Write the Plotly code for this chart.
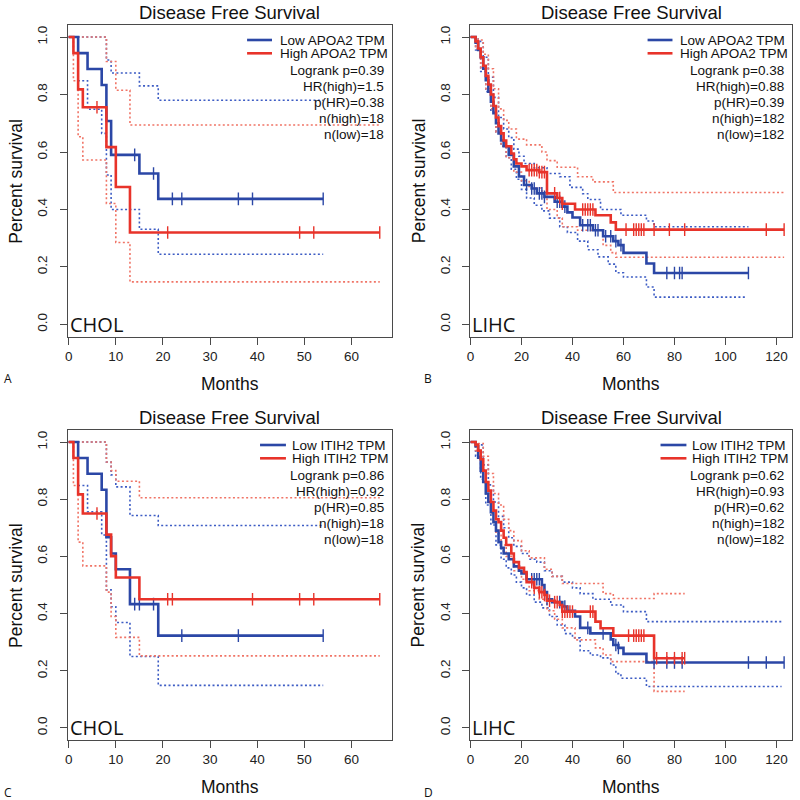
import plotly.graph_objects as go

# ---------------- DATA ----------------
# Panel A : CHOL, APOA2
A_LOW_T = [0, 2, 4, 7, 8, 9, 15, 19, 54]
A_LOW_S = [1.0, 0.944, 0.889, 0.833, 0.708, 0.590, 0.525, 0.437, 0.437]
A_LOW_CENS = [14, 18, 22, 24, 36, 39, 54]
A_LOW_UP_T = [0, 8, 9, 15, 19, 54]
A_LOW_UP_S = [1.0, 0.92, 0.875, 0.83, 0.78, 0.78]
A_LOW_LO_T = [0, 2, 4, 7, 8, 9, 15, 19, 54]
A_LOW_LO_S = [1.0, 0.848, 0.749, 0.665, 0.52, 0.40, 0.331, 0.244, 0.244]
A_HIGH_T = [0, 1, 2, 3, 8, 10, 13, 66]
A_HIGH_S = [1.0, 0.944, 0.818, 0.756, 0.617, 0.478, 0.320, 0.320]
A_HIGH_CENS = [6, 21, 49, 52, 66]
A_HIGH_UP_T = [0, 8, 10, 13, 66]
A_HIGH_UP_S = [1.0, 0.915, 0.815, 0.694, 0.694]
A_HIGH_LO_T = [0, 1, 2, 3, 8, 10, 13, 66]
A_HIGH_LO_S = [1.0, 0.848, 0.653, 0.572, 0.421, 0.285, 0.148, 0.148]

# Panel B : LIHC, APOA2
B_LOW_T = [0, 2, 3, 4, 5, 6, 7, 8, 9, 10, 11, 12, 13, 15, 17, 19, 21, 24, 26, 29, 33, 36, 38, 40, 43,
           48, 52, 56, 58, 60, 69, 72, 109]
B_LOW_S = [1.0, 0.98, 0.955, 0.93, 0.89, 0.85, 0.81, 0.775, 0.735, 0.70, 0.665, 0.64, 0.62, 0.59, 0.55,
           0.515, 0.485, 0.473, 0.456, 0.444, 0.427, 0.41, 0.39, 0.372, 0.345, 0.328, 0.307, 0.29, 0.276,
           0.249, 0.212, 0.179, 0.179]
B_LOW_CENS = [22, 24, 25, 27, 28, 29, 34, 35, 37, 44, 46, 47, 49, 50, 53, 55, 57, 59, 77, 80, 82, 83, 109]
B_LOW_UP_T = [0, 3, 5, 7, 9, 11, 13, 15, 17, 19, 21, 25, 30, 35, 39, 44, 46, 51, 59, 69, 72, 109]
B_LOW_UP_S = [1.0, 0.985, 0.93, 0.86, 0.79, 0.72, 0.68, 0.65, 0.61, 0.585, 0.56, 0.545, 0.525, 0.514,
              0.477, 0.455, 0.435, 0.40, 0.38, 0.36, 0.34, 0.34]
B_LOW_LO_T = [0, 2, 4, 6, 8, 10, 12, 14, 16, 18, 20, 22, 25, 28, 31, 35, 38, 42, 46, 50, 54, 57, 60, 69,
              72, 108]
B_LOW_LO_S = [1.0, 0.955, 0.88, 0.81, 0.74, 0.67, 0.62, 0.58, 0.54, 0.505, 0.47, 0.44, 0.415, 0.395,
              0.37, 0.34, 0.32, 0.29, 0.26, 0.235, 0.21, 0.18, 0.165, 0.13, 0.095, 0.095]
B_HIGH_T = [0, 2, 3, 4, 5, 6, 7, 8, 9, 10, 11, 12, 13, 14, 16, 17, 18, 20, 22, 27, 30, 34, 36, 41, 49,
            55, 57, 123]
B_HIGH_S = [1.0, 0.985, 0.96, 0.93, 0.90, 0.865, 0.835, 0.80, 0.76, 0.72, 0.69, 0.665, 0.64, 0.62,
            0.595, 0.575, 0.56, 0.55, 0.537, 0.53, 0.456, 0.44, 0.42, 0.40, 0.38, 0.355, 0.33, 0.33]
B_HIGH_CENS = [23, 24, 25, 26, 27, 28, 29, 33, 35, 36, 44, 45, 46, 47, 48, 61, 64, 65, 66, 67, 68, 72,
               78, 84, 116, 123]
B_HIGH_UP_T = [0, 3, 5, 7, 9, 11, 13, 15, 18, 22, 28, 30, 34, 42, 48, 56, 123]
B_HIGH_UP_S = [1.0, 0.99, 0.94, 0.89, 0.82, 0.75, 0.71, 0.68, 0.645, 0.625, 0.60, 0.57, 0.547, 0.514,
               0.496, 0.459, 0.459]
B_HIGH_LO_T = [0, 2, 4, 6, 8, 10, 12, 14, 17, 20, 23, 28, 30, 34, 36, 42, 52, 55, 57, 123]
B_HIGH_LO_S = [1.0, 0.96, 0.89, 0.82, 0.75, 0.67, 0.62, 0.58, 0.53, 0.50, 0.475, 0.46, 0.40, 0.37,
               0.34, 0.328, 0.275, 0.25, 0.234, 0.234]

# Panel C : CHOL, ITIH2
C_LOW_T = [0, 2, 4, 7, 8, 9, 10, 13, 19, 54]
C_LOW_S = [1.0, 0.944, 0.889, 0.833, 0.667, 0.610, 0.555, 0.433, 0.323, 0.323]
C_LOW_CENS = [14, 15, 18, 24, 36, 54]
C_LOW_UP_T = [0, 8, 9, 10, 13, 19, 54]
C_LOW_UP_S = [1.0, 0.93, 0.885, 0.843, 0.743, 0.708, 0.708]
C_LOW_LO_T = [0, 2, 4, 7, 8, 9, 10, 13, 19, 54]
C_LOW_LO_S = [1.0, 0.848, 0.756, 0.675, 0.483, 0.424, 0.369, 0.25, 0.149, 0.149]
C_HIGH_T = [0, 1, 2, 3, 8, 9, 10, 15, 66]
C_HIGH_S = [1.0, 0.944, 0.817, 0.75, 0.676, 0.601, 0.526, 0.45, 0.45]
C_HIGH_CENS = [6, 21, 22, 39, 49, 52, 66]
C_HIGH_UP_T = [0, 8, 9, 10, 15, 66]
C_HIGH_UP_S = [1.0, 0.93, 0.9, 0.863, 0.805, 0.805]
C_HIGH_LO_T = [0, 1, 2, 3, 8, 9, 10, 15, 66]
C_HIGH_LO_S = [1.0, 0.848, 0.65, 0.567, 0.475, 0.39, 0.317, 0.252, 0.252]

# Panel D : LIHC, ITIH2
D_LOW_T = [0, 2, 3, 4, 5, 6, 7, 8, 9, 10, 11, 12, 13, 15, 17, 19, 20, 22, 28, 29, 30, 32, 36, 38, 41,
           43, 47, 55, 56, 58, 60, 69, 123]
D_LOW_S = [1.0, 0.985, 0.945, 0.90, 0.86, 0.82, 0.79, 0.755, 0.72, 0.69, 0.65, 0.63, 0.61, 0.59, 0.565,
           0.55, 0.54, 0.52, 0.50, 0.475, 0.45, 0.44, 0.425, 0.41, 0.39, 0.35, 0.331, 0.31, 0.29, 0.28,
           0.259, 0.229, 0.229]
D_LOW_CENS = [24, 25, 26, 27, 30, 35, 37, 46, 52, 57, 58, 72, 77, 80, 83, 109, 116, 123]
D_LOW_UP_T = [0, 3, 5, 7, 9, 11, 13, 15, 17, 20, 23, 26, 29, 32, 36, 40, 43, 48, 55, 60, 69, 122]
D_LOW_UP_S = [1.0, 0.99, 0.92, 0.85, 0.79, 0.74, 0.70, 0.665, 0.635, 0.61, 0.59, 0.58, 0.55, 0.53,
              0.51, 0.49, 0.47, 0.45, 0.43, 0.407, 0.372, 0.372]
D_LOW_LO_T = [0, 2, 4, 6, 8, 10, 12, 14, 16, 18, 20, 22, 25, 28, 31, 34, 37, 40, 43, 47, 51, 55, 57,
              59, 69, 122]
D_LOW_LO_S = [1.0, 0.95, 0.87, 0.78, 0.71, 0.64, 0.59, 0.56, 0.535, 0.51, 0.49, 0.465, 0.44, 0.42,
              0.39, 0.36, 0.33, 0.315, 0.27, 0.255, 0.245, 0.22, 0.19, 0.174, 0.145, 0.145]
D_HIGH_T = [0, 2, 3, 4, 5, 6, 7, 8, 9, 10, 11, 12, 13, 14, 16, 17, 19, 21, 22, 25, 27, 29, 30, 33, 35,
            36, 49, 51, 56, 72, 84]
D_HIGH_S = [1.0, 0.99, 0.97, 0.94, 0.90, 0.86, 0.83, 0.79, 0.76, 0.73, 0.72, 0.69, 0.665, 0.64, 0.61,
            0.58, 0.56, 0.545, 0.51, 0.49, 0.475, 0.465, 0.445, 0.44, 0.43, 0.407, 0.372, 0.349, 0.323,
            0.244, 0.244]
D_HIGH_CENS = [24, 25, 27, 28, 29, 31, 33, 34, 36, 37, 38, 39, 40, 47, 48, 62, 64, 65, 66, 67, 68, 73,
               77, 80, 83, 84]
D_HIGH_UP_T = [0, 3, 5, 7, 9, 11, 13, 15, 17, 20, 23, 29, 32, 36, 41, 52, 56, 72, 84]
D_HIGH_UP_S = [1.0, 0.995, 0.95, 0.89, 0.82, 0.78, 0.73, 0.69, 0.655, 0.62, 0.595, 0.555, 0.53, 0.505,
               0.505, 0.47, 0.453, 0.47, 0.47]
D_HIGH_LO_T = [0, 2, 4, 6, 8, 10, 12, 14, 17, 20, 23, 27, 30, 33, 36, 41, 49, 52, 55, 72, 84]
D_HIGH_LO_S = [1.0, 0.97, 0.90, 0.82, 0.75, 0.68, 0.64, 0.60, 0.55, 0.52, 0.48, 0.45, 0.41, 0.38, 0.35,
               0.308, 0.28, 0.255, 0.232, 0.128, 0.128]

# Text
TITLE = "Disease Free Survival"
X_LABEL = "Months"
Y_LABEL = "Percent survival"
GENES = ["APOA2", "APOA2", "ITIH2", "ITIH2"]
CANCERS = ["CHOL", "LIHC", "CHOL", "LIHC"]
PANEL_LETTERS = ["A", "B", "C", "D"]
LOGRANK_P = ["0.39", "0.38", "0.86", "0.62"]
HR_HIGH = ["1.5", "0.88", "0.92", "0.93"]
P_HR = ["0.38", "0.39", "0.85", "0.62"]
N_HIGH = ["18", "182", "18", "182"]
N_LOW = ["18", "182", "18", "182"]
X_TICKS_CHOL = [0, 10, 20, 30, 40, 50, 60]
X_TICKS_LIHC = [0, 20, 40, 60, 80, 100, 120]
Y_TICKS = [0.0, 0.2, 0.4, 0.6, 0.8, 1.0]

# ---------------- STYLE / LAYOUT ----------------
BLUE = "#2b47a6"
RED = "#e8332a"
BLUE_CI = "#3d5cc4"
RED_CI = "#f07466"
AXC = "#4a4a4a"
FONT = "Liberation Sans, Arial, sans-serif"
W = H = 800

# pixel boxes (left, top, right, bottom)
BOXES = [(65, 25, 390, 336.5), (469, 25, 792, 336.5), (65, 430, 390, 740), (469, 430, 792, 740)]
XRANGES = [[-0.2, 68.5], [-0.1, 126.1], [-0.2, 68.5], [-0.1, 126.1]]
YRANGE = [-0.042, 1.042]

panels = [
    dict(low=(A_LOW_T, A_LOW_S, A_LOW_CENS), high=(A_HIGH_T, A_HIGH_S, A_HIGH_CENS),
         ci=[(A_LOW_UP_T, A_LOW_UP_S, BLUE_CI), (A_LOW_LO_T, A_LOW_LO_S, BLUE_CI),
             (A_HIGH_UP_T, A_HIGH_UP_S, RED_CI), (A_HIGH_LO_T, A_HIGH_LO_S, RED_CI)],
         xticks=X_TICKS_CHOL),
    dict(low=(B_LOW_T, B_LOW_S, B_LOW_CENS), high=(B_HIGH_T, B_HIGH_S, B_HIGH_CENS),
         ci=[(B_LOW_UP_T, B_LOW_UP_S, BLUE_CI), (B_LOW_LO_T, B_LOW_LO_S, BLUE_CI),
             (B_HIGH_UP_T, B_HIGH_UP_S, RED_CI), (B_HIGH_LO_T, B_HIGH_LO_S, RED_CI)],
         xticks=X_TICKS_LIHC),
    dict(low=(C_LOW_T, C_LOW_S, C_LOW_CENS), high=(C_HIGH_T, C_HIGH_S, C_HIGH_CENS),
         ci=[(C_LOW_UP_T, C_LOW_UP_S, BLUE_CI), (C_LOW_LO_T, C_LOW_LO_S, BLUE_CI),
             (C_HIGH_UP_T, C_HIGH_UP_S, RED_CI), (C_HIGH_LO_T, C_HIGH_LO_S, RED_CI)],
         xticks=X_TICKS_CHOL),
    dict(low=(D_LOW_T, D_LOW_S, D_LOW_CENS), high=(D_HIGH_T, D_HIGH_S, D_HIGH_CENS),
         ci=[(D_LOW_UP_T, D_LOW_UP_S, BLUE_CI), (D_LOW_LO_T, D_LOW_LO_S, BLUE_CI),
             (D_HIGH_UP_T, D_HIGH_UP_S, RED_CI), (D_HIGH_LO_T, D_HIGH_LO_S, RED_CI)],
         xticks=X_TICKS_LIHC),
]


def step_at(ts, ss, c):
    v = ss[0]
    for t, s in zip(ts, ss):
        if t <= c:
            v = s
    return v


def px(x):
    return x / W


def py(y):
    return 1 - y / H


fig = go.Figure()
annotations = []
shapes = []

for i, p in enumerate(panels):
    xa = "x" if i == 0 else f"x{i + 1}"
    ya = "y" if i == 0 else f"y{i + 1}"
    # confidence bands (dotted)
    for ts, ss, col in p["ci"]:
        fig.add_trace(go.Scatter(x=ts, y=ss, mode="lines", line=dict(color=col, width=1.6, dash="2px,2.4px",
                                 shape="hv"), xaxis=xa, yaxis=ya, showlegend=False, hoverinfo="skip"))
    # survival curves + censor marks
    for (ts, ss, cens), col in ((p["low"], BLUE), (p["high"], RED)):
        fig.add_trace(go.Scatter(x=ts, y=ss, mode="lines", line=dict(color=col, width=2.6, shape="hv"),
                                 xaxis=xa, yaxis=ya, showlegend=False))
        fig.add_trace(go.Scatter(x=cens, y=[step_at(ts, ss, c) for c in cens], mode="markers",
                                 marker=dict(symbol="line-ns-open", size=9, color=col,
                                             line=dict(color=col, width=1.4)),
                                 xaxis=xa, yaxis=ya, showlegend=False))

    L, T, R, B = BOXES[i]
    axis_common = dict(showline=True, mirror=True, linecolor=AXC, linewidth=1, ticks="outside", ticklen=7,
                       tickcolor=AXC, tickwidth=1, showgrid=False, zeroline=False,
                       tickfont=dict(family=FONT, size=13.5, color="#222"))
    fig.update_layout(**{
        ("xaxis" if i == 0 else f"xaxis{i + 1}"): dict(domain=[px(L), px(R)], range=XRANGES[i], anchor=ya,
                                                         tickvals=p["xticks"], **axis_common),
        ("yaxis" if i == 0 else f"yaxis{i + 1}"): dict(domain=[py(B), py(T)], range=YRANGE, anchor=xa,
                                                         tickvals=Y_TICKS, ticktext=[f"{v:.1f}" for v in Y_TICKS],
                                                         tickangle=-90, ticklabelstandoff=7, **axis_common),
    })

    cx = (L + R) / 2
    annotations.append(dict(text=TITLE, x=px(cx), y=py(T - 13), xref="paper", yref="paper", showarrow=False,
                            xanchor="center", yanchor="middle", font=dict(family=FONT, size=18.5, color="#111")))
    annotations.append(dict(text=X_LABEL, x=px(cx), y=py(B + 47), xref="paper", yref="paper", showarrow=False,
                            xanchor="center", yanchor="middle", font=dict(family=FONT, size=17.5, color="#111")))
    annotations.append(dict(text=Y_LABEL, x=px(L - 52), y=py((T + B) / 2), xref="paper", yref="paper",
                            showarrow=False, textangle=-90, xanchor="center", yanchor="middle",
                            font=dict(family=FONT, size=17.5, color="#111")))
    annotations.append(dict(text=CANCERS[i], x=px(L), y=py(B - 12.5), xref="paper", yref="paper",
                            showarrow=False, xanchor="left", yanchor="middle",
                            font=dict(family="Open Sans, Noto Sans, sans-serif", size=20, color="#111")))
    annotations.append(dict(text=PANEL_LETTERS[i], x=px(L - 66 if i % 2 == 0 else L - 48),
                            y=py(B + 42 if i < 2 else B + 52), xref="paper", yref="paper", showarrow=False,
                            xanchor="left", yanchor="middle",
                            font=dict(family="Open Sans, Noto Sans, sans-serif", size=12, color="#111")))

    # legend (lines + labels) and statistics
    gene = GENES[i]
    if gene == "APOA2":
        lx0, lx1, tx = R - 145, R - 120, R - 114
    else:
        lx0, lx1, tx = R - 132, R - 106, R - 102
    for k, (lab, col) in enumerate(((f"Low {gene} TPM", BLUE), (f"High {gene} TPM", RED))):
        yy = T + 15 + 13.3 * k
        shapes.append(dict(type="line", xref="paper", yref="paper", x0=px(lx0), x1=px(lx1), y0=py(yy),
                           y1=py(yy), line=dict(color=col, width=2.6)))
        annotations.append(dict(text=lab, x=px(tx), y=py(yy), xref="paper", yref="paper", showarrow=False,
                                xanchor="left", yanchor="middle", font=dict(family=FONT, size=13.5, color="#111")))
    stats = [f"Logrank p={LOGRANK_P[i]}", f"HR(high)={HR_HIGH[i]}", f"p(HR)={P_HR[i]}",
             f"n(high)={N_HIGH[i]}", f"n(low)={N_LOW[i]}"]
    for k, s in enumerate(stats):
        annotations.append(dict(text=s, x=px(R - 6), y=py(T + 45.5 + 16 * k), xref="paper", yref="paper",
                                showarrow=False, xanchor="right", yanchor="middle",
                                font=dict(family=FONT, size=13.5, color="#111")))

fig.update_layout(width=W, height=H, margin=dict(l=0, r=0, t=0, b=0), paper_bgcolor="white",
                  plot_bgcolor="white", showlegend=False, annotations=annotations, shapes=shapes)
fig.write_html("out.html", config={"displayModeBar": False},
               post_script="document.body.style.margin='0';document.body.style.overflow='hidden';")
